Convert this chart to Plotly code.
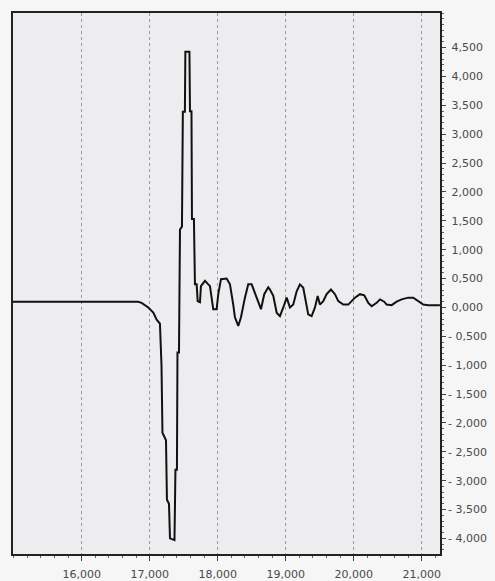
import plotly.graph_objects as go

# Signal trace: time (x) against amplitude (y)
time_vals = [
    14990, 16828, 16882, 16979, 17053, 17103, 17151, 17174, 17188, 17240,
    17254, 17284, 17299, 17365, 17379, 17401, 17409, 17431, 17446, 17475,
    17488, 17518, 17525, 17585, 17593, 17615, 17622, 17651, 17666, 17691,
    17706, 17740, 17754,
    17813, 17862, 17887, 17935, 17985, 18009, 18049, 18132, 18181, 18229,
    18254, 18303, 18343, 18401, 18450, 18500, 18574, 18637, 18685, 18744,
    18769, 18818, 18868, 18916, 18965, 19015, 19063, 19112, 19162, 19210,
    19259, 19294, 19332, 19382, 19431, 19471, 19504, 19553, 19603, 19666,
    19725, 19774, 19847, 19921, 19946, 20019, 20093, 20156, 20215, 20265,
    20338, 20387, 20450, 20485, 20559, 20632, 20706, 20803, 20877, 20950,
    21024, 21097, 21269,
]
amplitude = [
    0.10, 0.10, 0.08, 0.00, -0.09, -0.21, -0.28, -1.00, -2.17, -2.30,
    -3.33, -3.40, -4.00, -4.03, -2.81, -2.81, -0.78, -0.78, 1.35, 1.40,
    3.39, 3.39, 4.43, 4.43, 3.40, 3.40, 1.53, 1.53, 0.40, 0.40,
    0.11, 0.09, 0.37,
    0.46, 0.40, 0.37, -0.03, -0.03, 0.23, 0.49, 0.50, 0.40, 0.05,
    -0.17, -0.32, -0.17, 0.17, 0.40, 0.40, 0.17, -0.03, 0.23, 0.35,
    0.31, 0.20, -0.09, -0.15, 0.00, 0.17, 0.00, 0.05, 0.28, 0.40,
    0.34, 0.11, -0.12, -0.15, 0.00, 0.20, 0.05, 0.11, 0.23, 0.31,
    0.23, 0.11, 0.05, 0.05, 0.08, 0.17, 0.23, 0.21, 0.08, 0.02,
    0.08, 0.14, 0.10, 0.05, 0.04, 0.10, 0.14, 0.17, 0.17, 0.11,
    0.05, 0.04, 0.04,
]

# Axis ticks
x_ticks = [16000, 17000, 18000, 19000, 20000, 21000]
x_labels = ["16,000", "17,000", "18,000", "19,000", "20,000", "21,000"]
y_ticks = [4.5, 4.0, 3.5, 3.0, 2.5, 2.0, 1.5, 1.0, 0.5, 0.0,
           -0.5, -1.0, -1.5, -2.0, -2.5, -3.0, -3.5, -4.0]


def fmt(v):
    s = f"{abs(v):.3f}".replace(".", ",")
    return ("-\u00a0" if v < 0 else "\u00a0") + s


y_labels = [fmt(v) for v in y_ticks]

fig = go.Figure()
fig.add_trace(go.Scatter(
    x=time_vals, y=amplitude, mode="lines",
    line=dict(color="#111111", width=2),
    hoverinfo="skip", showlegend=False,
))

axis_font = dict(family="DejaVu Sans, Arial, sans-serif", size=11, color="#4a4a4a")

fig.update_layout(
    width=495, height=581,
    margin=dict(l=13, r=55, t=13, b=27),
    paper_bgcolor="#f6f6f6",
    plot_bgcolor="#ededf0",
    xaxis=dict(
        range=[14990, 21270],
        automargin=False,
        tickvals=x_ticks, ticktext=x_labels,
        showgrid=True, gridcolor="#9a9a9a", griddash="dot", gridwidth=1,
        zeroline=False,
        showline=True, linecolor="#222222", linewidth=1.5, mirror=True,
        ticks="outside", ticklen=5, tickcolor="#444444",
        ticklabelstandoff=4,
        minor=dict(dtick=200, ticks="outside", ticklen=2, tickcolor="#666666", showgrid=False),
        tickfont=axis_font,
    ),
    yaxis=dict(
        range=[-4.27, 5.1],
        automargin=False,
        side="right",
        tickvals=y_ticks, ticktext=y_labels,
        showgrid=False, zeroline=False,
        showline=True, linecolor="#222222", linewidth=1.5, mirror=True,
        ticks="outside", ticklen=4, tickcolor="#444444",
        minor=dict(dtick=0.1, ticks="outside", ticklen=2, tickcolor="#666666"),
        tickfont=axis_font,
    ),
)

fig.write_html("out.html")
